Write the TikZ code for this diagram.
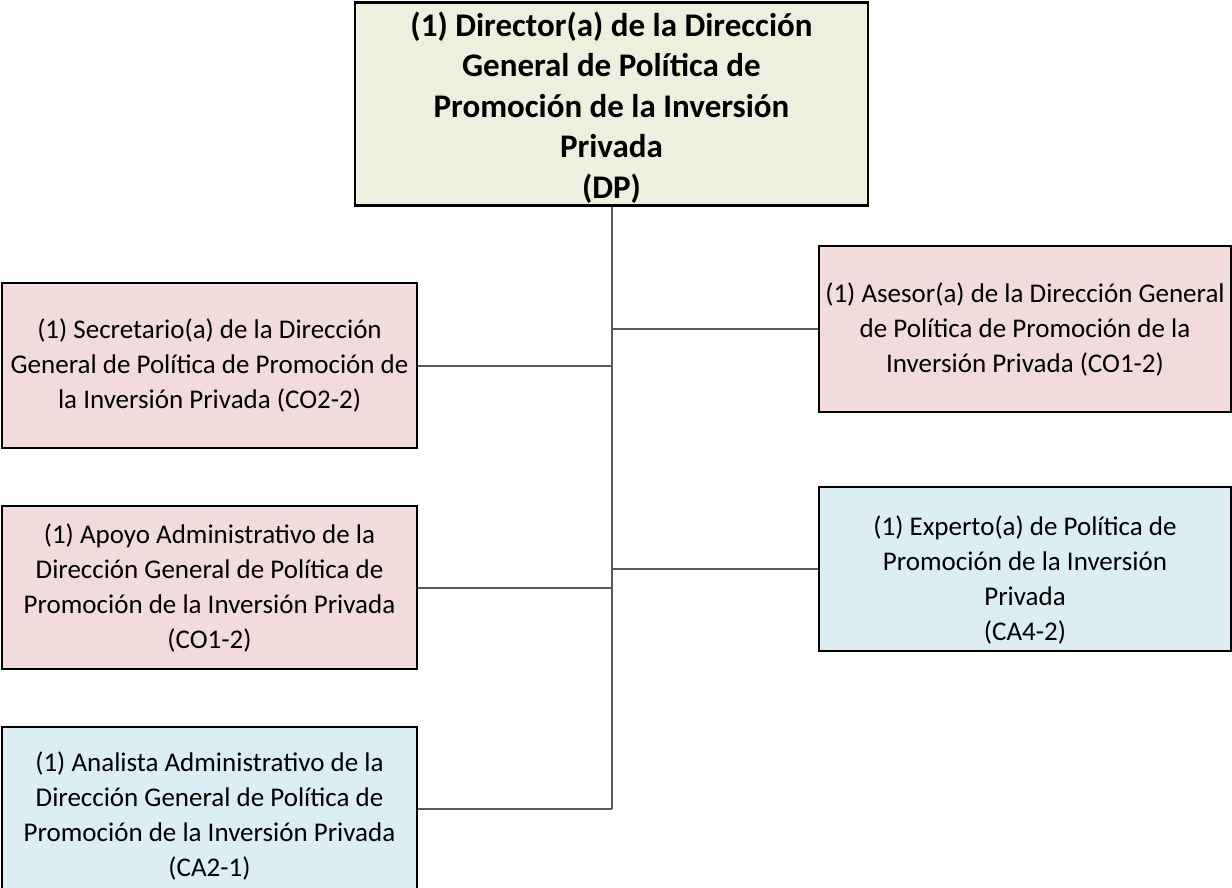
\documentclass[tikz,border=0pt]{standalone}
\usepackage{fontspec}
\setmainfont{Carlito}
\definecolor{boxgreen}{HTML}{EBF1DE}
\definecolor{boxpink}{HTML}{F2DCDB}
\definecolor{boxblue}{HTML}{DBEEF3}
\definecolor{linegray}{HTML}{595959}
\newcommand{\pushdown}[1]{\rule{0pt}{#1}}
\begin{document}
\begin{tikzpicture}[x=1pt,y={(0,-1pt)},
  unit/.style={draw=black,line width=2.6pt,inner sep=0pt,align=center,
    font=\fontsize{27}{35}\selectfont},
  head/.style={unit,fill=boxgreen},
  headtext/.style={inner sep=0pt,align=center,font=\fontsize{33}{40.5}\selectfont\bfseries},
  pinkbox/.style={unit,fill=boxpink},
  bluebox/.style={unit,fill=boxblue},
  link/.style={draw=linegray,line width=2pt}]
\useasboundingbox[fill=white] (0,0) rectangle (1232,888);

\node[head,minimum width=513pt,minimum height=203pt] (dp) at (611.5,104) {};
\node[headtext] (dptext) at (611.5,107.5)
  {(1) Director(a) de la Dirección\\General de Política de\\Promoción de la Inversión\\Privada\\(DP)};

\node[pinkbox,minimum width=415pt,minimum height=165pt] (sec) at (209.5,365.5)
  {(1) Secretario(a) de la Dirección\\General de Política de Promoción de\\la Inversión Privada (CO2-2)};
\node[pinkbox,minimum width=415pt,minimum height=163pt] (apo) at (209.5,587.5)
  {(1) Apoyo Administrativo de la\\Dirección General de Política de\\Promoción de la Inversión Privada\\(CO1-2)};
\node[bluebox,minimum width=415pt,minimum height=164pt] (ana) at (209.5,809)
  {\pushdown{33pt}(1) Analista Administrativo de la\\Dirección General de Política de\\Promoción de la Inversión Privada\\(CA2-1)};

\node[pinkbox,minimum width=412pt,minimum height=166pt] (ase) at (1025,329)
  {(1) Asesor(a) de la Dirección General\\de Política de Promoción de la\\Inversión Privada (CO1-2)};
\node[bluebox,minimum width=412pt,minimum height=164pt] (exp) at (1025,569)
  {\pushdown{41pt}(1) Experto(a) de Política de\\Promoción de la Inversión\\Privada\\(CA4-2)};

\coordinate (trunkend) at (dp.south |- ana.east);
\draw[link] (dp.south) -- (trunkend);
\draw[link] (sec.east) -- (sec.east -| dp.south);
\draw[link] (apo.east) -- (apo.east -| dp.south);
\draw[link] (ana.east) -- (trunkend);
\draw[link] (ase.west) -- (ase.west -| dp.south);
\draw[link] (exp.west) -- (exp.west -| dp.south);
\end{tikzpicture}
\end{document}
